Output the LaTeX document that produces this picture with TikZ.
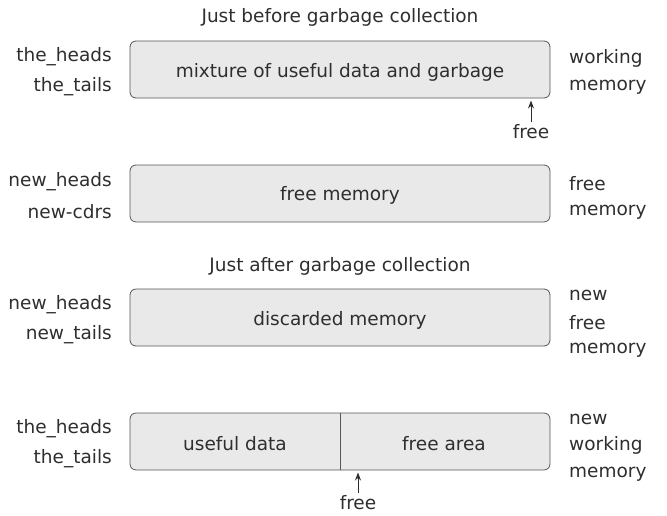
\documentclass[tikz,border=0pt]{standalone}
\usepackage{fontspec}
\setmainfont{DejaVu Sans}
\usetikzlibrary{arrows.meta}
\definecolor{boxfill}{HTML}{E9E9E9}
\definecolor{boxline}{HTML}{5A5550}
\definecolor{txt}{HTML}{2E2E2E}
\begin{document}
\begin{tikzpicture}[x=1pt,y=-1pt,
  every node/.style={text=txt,font=\fontsize{18.5}{20}\selectfont,inner sep=0pt,yshift=-1.5pt},
  membox/.style={draw=boxline,fill=boxfill,rounded corners=6pt,line width=0.8pt},
  lbl/.style={anchor=east},
  rlbl/.style={anchor=west},
  ptr/.style={-{Stealth[length=8pt,width=6pt]},draw=txt,line width=0.9pt}]
\useasboundingbox (0,0) rectangle (667,515);
% titles
\node (t1) at (340,16) {Just before garbage collection};
\node (t2) at (340,265) {Just after garbage collection};
% box 1
\draw[membox] (130,41) rectangle (550,98);
\node (b1) at (340,71) {mixture of useful data and garbage};
\node[lbl] (l1a) at (112,55) {the\_heads};
\node[lbl] (l1b) at (112,85) {the\_tails};
\node[rlbl] (r1a) at (569,57) {working};
\node[rlbl] (r1b) at (569,86) {memory};
\node (f1) at (531,130) {free};
\coordinate (f1t) at (531,99);
\draw[ptr] (f1.north) ++(0,-2) -- (f1t);
% box 2
\draw[membox] (130,165) rectangle (550,222);
\node (b2) at (340,194) {free memory};
\node[lbl] (l2a) at (112,180) {new\_heads};
\node[lbl] (l2b) at (112,210) {new-cdrs};
\node[rlbl] (r2a) at (569,182) {free};
\node[rlbl] (r2b) at (569,211) {memory};
% box 3
\draw[membox] (130,289) rectangle (550,346);
\node (b3) at (340,319) {discarded memory};
\node[lbl] (l3a) at (112,303) {new\_heads};
\node[lbl] (l3b) at (112,333) {new\_tails};
\node[rlbl] (r3a) at (569,294) {new};
\node[rlbl] (r3b) at (569,321) {free};
\node[rlbl] (r3c) at (569,349) {memory};
% box 4
\draw[membox] (130,413) rectangle (550,470);
\draw[boxline,line width=0.8pt] (340,413) -- (340,470);
\node (b4a) at (235,442) {useful data};
\node (b4b) at (444,442) {free area};
\node[lbl] (l4a) at (112,427) {the\_heads};
\node[lbl] (l4b) at (112,457) {the\_tails};
\node[rlbl] (r4a) at (569,418) {new};
\node[rlbl] (r4b) at (569,444) {working};
\node[rlbl] (r4c) at (569,473) {memory};
\node (f4) at (358,501) {free};
\coordinate (f4t) at (358,471);
\draw[ptr] (f4.north) ++(0,-2) -- (f4t);
\end{tikzpicture}
\end{document}
